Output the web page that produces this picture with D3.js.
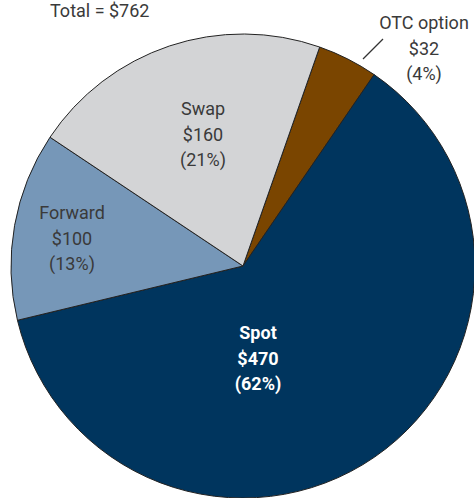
<!DOCTYPE html>
<html>
<head>
<meta charset="utf-8">
<script src="https://cdn.jsdelivr.net/npm/d3@7"></script>
<style>
body { margin: 0; background: #fff; }
svg { display: block; font-family: "Roboto", "Open Sans", sans-serif; }
</style>
</head>
<body>
<svg width="474" height="498"></svg>
<script>
const categories = ["OTC option", "Spot", "Forward", "Swap"];
const values = [32, 470, 100, 160];
const shares = ["4%", "62%", "13%", "21%"];
const colors = ["#7a4500", "#00355e", "#7697b8", "#d3d4d6"];
const total = 762;

const svg = d3.select("svg");
const cx = 243, cy = 266, radius = 232;

// OTC slice begins just right of 12 o'clock
const startAngle = 19.3 * Math.PI / 180;

const pie = d3.pie()
	.sort(null)
	.value(d => d.value)
	.startAngle(startAngle)
	.endAngle(startAngle + 2 * Math.PI);

const data = categories.map((c, i) => ({ name: c, value: values[i], share: shares[i], color: colors[i] }));

const arc = d3.arc().innerRadius(0).outerRadius(radius);

const g = svg.append("g").attr("transform", `translate(${cx},${cy})`);

g.selectAll("path")
	.data(pie(data))
	.join("path")
	.attr("d", arc)
	.attr("fill", d => d.data.color)
	.attr("stroke", "#222")
	.attr("stroke-width", 1);

// label anchors
const labelPos = {
	"Swap": { x: 203, y: 115, color: "#3a3a3a", weight: "normal" },
	"Forward": { x: 72, y: 219, color: "#3a3a3a", weight: "normal" },
	"Spot": { x: 258, y: 339, color: "#ffffff", weight: "bold" },
	"OTC option": { x: 424, y: 29, color: "#3a3a3a", weight: "normal" }
};

data.forEach(d => {
	const p = labelPos[d.name];
	const t = svg.append("text")
		.attr("text-anchor", "middle")
		.attr("fill", p.color)
		.attr("font-weight", p.weight)
		.attr("font-size", 18);
	[d.name, `$${d.value}`, `(${d.share})`].forEach((s, i) => {
		t.append("tspan").attr("x", p.x).attr("y", p.y + i * 25.5).text(s);
	});
});

// leader for the small slice
svg.append("line")
	.attr("x1", 363).attr("y1", 59)
	.attr("x2", 383).attr("y2", 39)
	.attr("stroke", "#333")
	.attr("stroke-width", 1.2);

svg.append("text")
	.attr("x", 50)
	.attr("y", 17)
	.attr("fill", "#3a3a3a")
	.attr("font-size", 18)
	.text(`Total = $${total}`);
</script>
</body>
</html>
